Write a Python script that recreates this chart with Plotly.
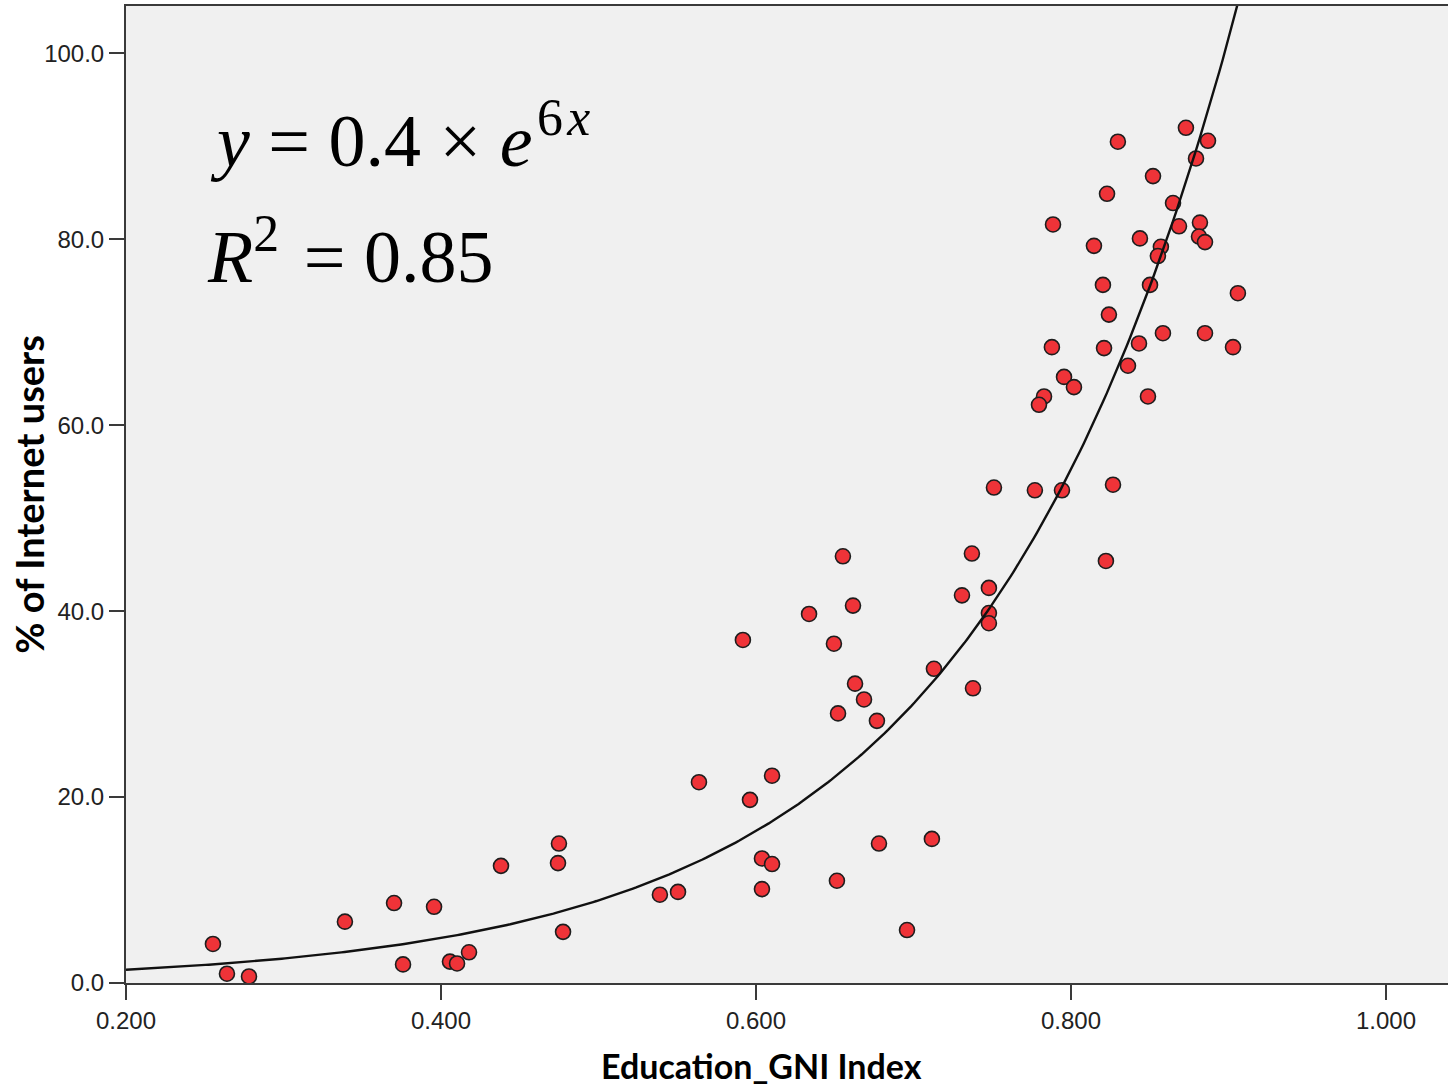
import numpy as np
import plotly.graph_objects as go

# Education_GNI Index (x) and % of Internet users (y)
edu_gni = [
    0.8730, 0.8298, 0.8870, 0.8794, 0.8521, 0.8229, 0.8648, 0.7886, 0.8686, 0.8819,
    0.8813, 0.8851, 0.8146, 0.8438, 0.8571, 0.8552, 0.8203, 0.8502, 0.9060, 0.8241,
    0.7879, 0.8210, 0.8432, 0.8584, 0.8851, 0.9029, 0.8362, 0.7956, 0.8019, 0.7829,
    0.7797, 0.8489, 0.7771, 0.7943, 0.8267, 0.8222, 0.7511, 0.7371, 0.6552, 0.7479,
    0.7308, 0.6616, 0.6337, 0.7479, 0.7479, 0.5917, 0.6495, 0.7130, 0.6629, 0.7378,
    0.6686, 0.6521, 0.6768, 0.5638, 0.6102, 0.5962, 0.7117, 0.6781, 0.6038, 0.6102,
    0.5390, 0.5505, 0.6038, 0.6514, 0.6959, 0.2552, 0.2641, 0.2781, 0.3390, 0.3702,
    0.3956, 0.3759, 0.4057, 0.4102, 0.4178, 0.4381, 0.4749, 0.4743, 0.4775,
]
internet_users = [
    92.0, 90.5, 90.6, 88.7, 86.8, 84.9, 83.9, 81.6, 81.4, 81.8,
    80.3, 79.7, 79.3, 80.1, 79.2, 78.2, 75.1, 75.1, 74.2, 71.9,
    68.4, 68.3, 68.8, 69.9, 69.9, 68.4, 66.4, 65.2, 64.1, 63.1,
    62.2, 63.1, 53.0, 53.0, 53.6, 45.4, 53.3, 46.2, 45.9, 42.5,
    41.7, 40.6, 39.7, 39.8, 38.7, 36.9, 36.5, 33.8, 32.2, 31.7,
    30.5, 29.0, 28.2, 21.6, 22.3, 19.7, 15.5, 15.0, 13.4, 12.8,
    9.5, 9.8, 10.1, 11.0, 5.7, 4.2, 1.0, 0.7, 6.6, 8.6,
    8.2, 2.0, 2.3, 2.1, 3.3, 12.6, 15.0, 12.9, 5.5,
]

# Fitted exponential curve y = a * exp(b * x) (as drawn)
FIT_A = 0.423
FIT_B = 6.09

x_ticks = [0.2, 0.4, 0.6, 0.8, 1.0]
x_tick_labels = ["0.200", "0.400", "0.600", "0.800", "1.000"]
y_ticks = [0, 20, 40, 60, 80, 100]
y_tick_labels = ["0.0", "20.0", "40.0", "60.0", "80.0", "100.0"]

X_RANGE = [0.2, 1.0394]
Y_RANGE = [0, 105.1]

fig = go.Figure()

fig.add_trace(go.Scatter(
    x=edu_gni, y=internet_users, mode="markers",
    marker=dict(size=15, color="#ef3338", line=dict(color="#1e1e1e", width=1.6)),
    showlegend=False, hoverinfo="x+y",
))

curve_x = np.linspace(X_RANGE[0], X_RANGE[1], 400)
curve_y = FIT_A * np.exp(FIT_B * curve_x)
fig.add_trace(go.Scatter(
    x=curve_x, y=curve_y, mode="lines",
    line=dict(color="#111111", width=2.4),
    showlegend=False, hoverinfo="skip",
))

axis_color = "#3a3a3a"
tick_font = dict(family="Liberation Sans, Arial, sans-serif", size=24, color="#222222")

fig.update_xaxes(
    range=X_RANGE, tickvals=x_ticks, ticktext=x_tick_labels,
    showgrid=False, zeroline=False,
    showline=True, mirror=True, linecolor=axis_color, linewidth=2,
    ticks="outside", ticklen=15, tickwidth=2, tickcolor=axis_color,
    tickfont=tick_font,
)
fig.update_yaxes(
    range=Y_RANGE, tickvals=y_ticks, ticktext=y_tick_labels,
    showgrid=False, zeroline=False,
    showline=True, linecolor=axis_color, linewidth=2,
    ticks="outside", ticklen=15, tickwidth=2, tickcolor=axis_color,
    tickfont=tick_font,
)

eq_font = dict(family="Liberation Serif, Times New Roman, serif", size=74, color="#000000")

fig.update_layout(
    width=1448, height=1085,
    margin=dict(l=126, r=0, t=6, b=102),
    plot_bgcolor="#f0f0f0", paper_bgcolor="#ffffff",
    annotations=[
        dict(text="<b>Education_GNI Index</b>", xref="x", yref="paper",
             x=0.6038, y=-0.084, xanchor="center", yanchor="middle",
             showarrow=False,
             font=dict(family="Lato, Open Sans, sans-serif", size=34, color="#000000")),
        dict(text="<b>% of Internet users</b>", xref="paper", yref="paper",
             x=-0.0740, y=0.5, xanchor="center", yanchor="middle",
             textangle=-90, showarrow=False,
             font=dict(family="Lato, Open Sans, sans-serif", size=38, color="#000000")),
        dict(text="<i>y</i> = 0.4 × <i>e</i><sup>\u200a6\u200a<i>x</i></sup>", xref="x", yref="y",
             x=0.2520, y=85.9, xanchor="left", yanchor="bottom",
             showarrow=False, font=eq_font),
        dict(text="<i>R</i><sup>2</sup>\u200a = 0.85", xref="x", yref="y",
             x=0.2500, y=73.5, xanchor="left", yanchor="bottom",
             showarrow=False, font=eq_font),
    ],
)

fig.write_html(
    "out.html",
    config={"displayModeBar": False},
    post_script="document.body.style.margin='0';document.body.style.overflow='hidden';",
)
